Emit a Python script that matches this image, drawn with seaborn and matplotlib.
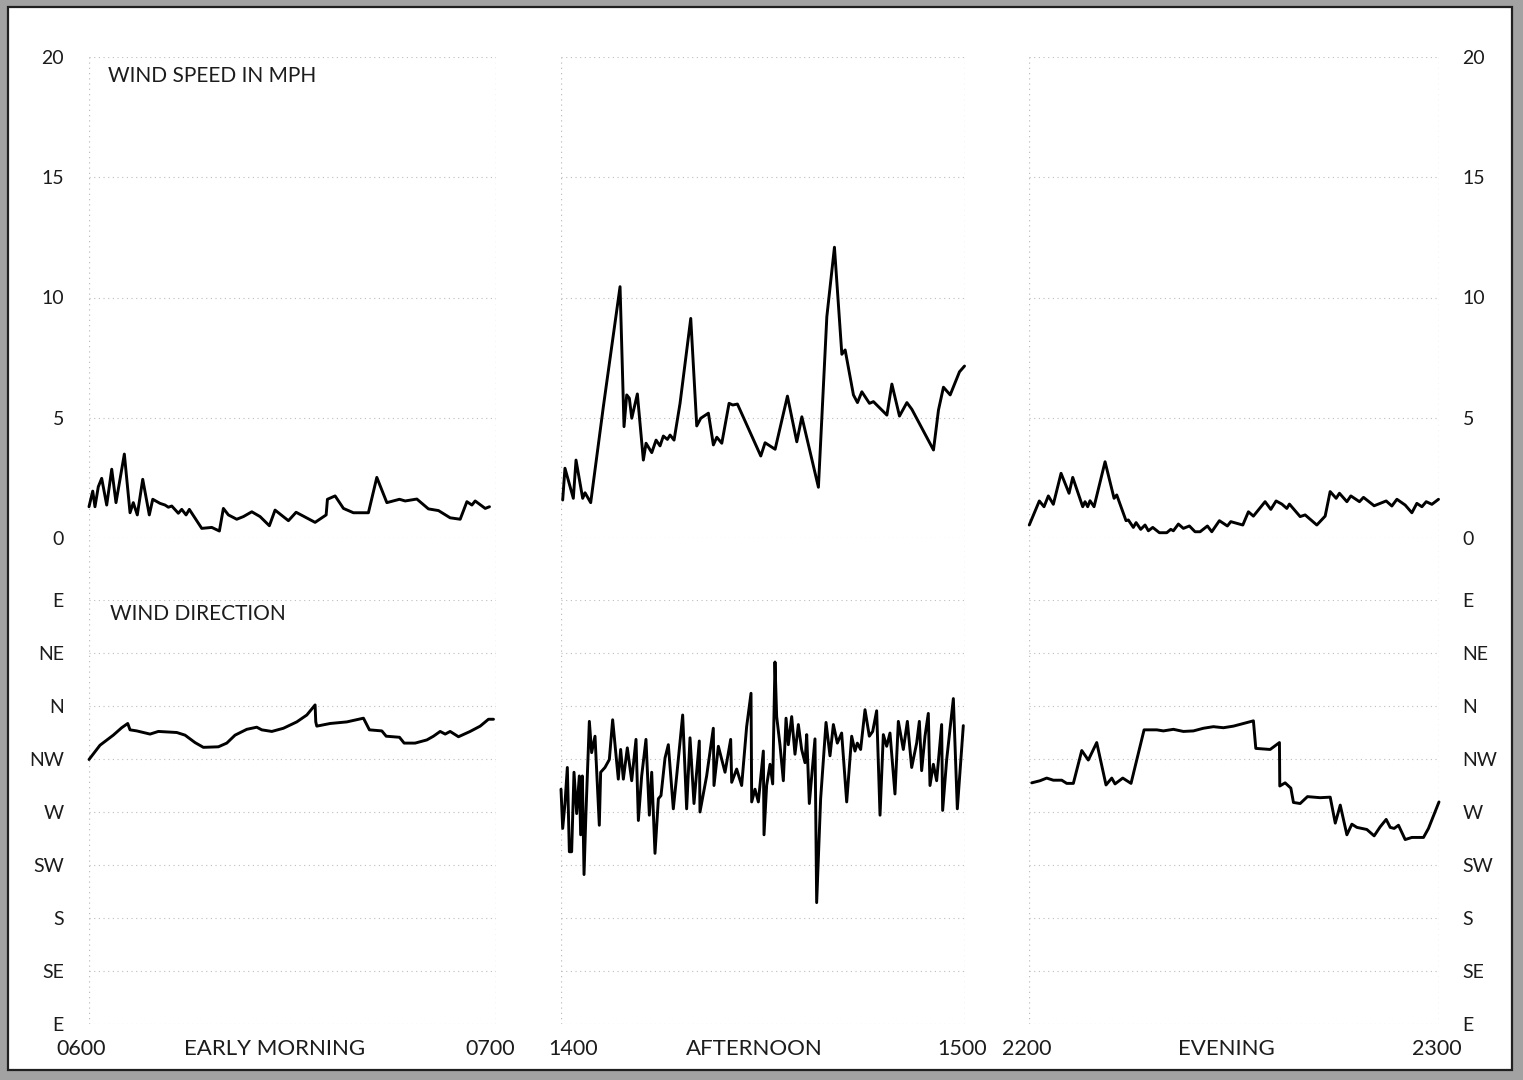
import numpy as np
import pandas as pd
import matplotlib
matplotlib.use("Agg")
import matplotlib.pyplot as plt
from matplotlib.patches import Rectangle
import seaborn as sns

# ---------------- data (minutes after the start of each hour) ----------------
panel_titles = ["EARLY MORNING", "AFTERNOON", "EVENING"]
hour_start_labels = ["0600", "1400", "2200"]
hour_end_labels = ["0700", "1500", "2300"]

speed_ticks = [0, 5, 10, 15, 20]
speed_tick_labels = ["0", "5", "10", "15", "20"]
dir_ticks = [0, 1, 2, 3, 4, 5, 6, 7, 8]
dir_tick_labels = ["E", "SE", "S", "SW", "W", "NW", "N", "NE", "E"]

morning_speed_t = [0.0, 0.55, 0.88, 1.37, 1.87, 2.61, 3.35, 3.98, 5.21, 6.05, 6.53, 7.12, 7.92, 8.89, 9.40,
                   10.47, 11.21, 11.70, 12.20, 13.17, 13.67, 14.31, 14.79, 16.62, 18.10, 19.22, 19.81, 20.55,
                   21.78, 22.76, 24.00, 25.22, 26.59, 27.43, 29.40, 30.53, 33.33, 34.96, 35.15, 36.28, 37.51,
                   38.98, 41.19, 42.43, 43.91, 45.77, 46.61, 48.33, 50.04, 51.52, 53.24, 54.72, 55.71, 56.45,
                   56.93, 58.41, 59.04]
morning_speed = [1.30, 1.95, 1.30, 2.13, 2.48, 1.37, 2.86, 1.47, 3.49, 1.05, 1.47, 0.96, 2.44, 0.96, 1.61,
                 1.44, 1.37, 1.28, 1.33, 1.03, 1.19, 0.96, 1.19, 0.40, 0.44, 0.29, 1.23, 0.96, 0.78, 0.89,
                 1.09, 0.89, 0.51, 1.16, 0.72, 1.07, 0.65, 0.96, 1.61, 1.75, 1.23, 1.05, 1.05, 2.52, 1.47,
                 1.61, 1.54, 1.62, 1.21, 1.14, 0.84, 0.78, 1.51, 1.37, 1.54, 1.23, 1.30]

afternoon_speed_t = [0.25, 0.59, 1.83, 2.23, 3.22, 3.57, 4.41, 6.29, 8.77, 9.36, 9.76, 10.15, 10.51, 11.34,
                     12.23, 12.63, 13.48, 14.12, 14.71, 15.20, 15.80, 16.20, 16.79, 17.68, 19.27, 20.16,
                     20.76, 21.89, 22.63, 23.14, 23.88, 24.96, 25.51, 26.20, 29.67, 30.31, 31.80, 33.63,
                     35.02, 35.77, 38.23, 39.48, 40.61, 41.71, 42.20, 43.43, 44.03, 44.68, 45.81, 46.40,
                     48.40, 49.14, 50.27, 51.37, 52.11, 55.32, 56.06, 56.80, 57.80, 59.18, 59.93]
afternoon_speed = [1.58, 2.90, 1.65, 3.24, 1.65, 1.88, 1.47, 5.46, 10.45, 4.63, 5.95, 5.81, 4.98, 5.99,
                   3.24, 3.94, 3.55, 4.07, 3.83, 4.24, 4.10, 4.28, 4.07, 5.60, 9.13, 4.66, 4.98, 5.19,
                   3.87, 4.19, 3.94, 5.60, 5.53, 5.57, 3.41, 3.96, 3.69, 5.90, 4.00, 5.04, 2.11, 9.20,
                   12.09, 7.64, 7.82, 5.95, 5.63, 6.08, 5.60, 5.67, 5.11, 6.40, 5.07, 5.63, 5.35, 3.66,
                   5.32, 6.27, 5.95, 6.91, 7.15]

evening_speed_t = [0.04, 1.51, 2.20, 2.83, 3.56, 4.69, 5.86, 6.40, 7.86, 8.20, 8.59, 8.93, 9.52, 11.13,
                   12.45, 12.84, 14.20, 14.54, 15.27, 15.67, 16.35, 16.98, 17.47, 18.11, 19.08, 20.16,
                   20.75, 21.13, 21.86, 22.59, 23.47, 24.30, 25.04, 26.11, 26.75, 27.86, 29.03, 29.53,
                   31.29, 32.11, 32.84, 34.55, 35.39, 36.16, 37.00, 37.73, 38.11, 39.68, 40.41, 42.12,
                   43.34, 44.07, 44.95, 45.43, 46.52, 47.10, 48.36, 48.95, 50.51, 52.27, 53.10, 53.84,
                   55.05, 56.03, 56.76, 57.50, 58.13, 58.96, 59.93]
evening_speed = [0.54, 1.54, 1.30, 1.75, 1.40, 2.69, 1.86, 2.52, 1.30, 1.51, 1.30, 1.55, 1.30, 3.17, 1.65,
                 1.79, 0.72, 0.75, 0.44, 0.64, 0.36, 0.54, 0.30, 0.44, 0.22, 0.22, 0.36, 0.30, 0.58, 0.40,
                 0.50, 0.26, 0.26, 0.50, 0.26, 0.72, 0.50, 0.68, 0.54, 1.09, 0.91, 1.51, 1.19, 1.54, 1.41,
                 1.23, 1.41, 0.89, 0.96, 0.54, 0.91, 1.93, 1.65, 1.86, 1.51, 1.75, 1.51, 1.69, 1.34, 1.54,
                 1.33, 1.61, 1.37, 1.05, 1.44, 1.30, 1.51, 1.40, 1.61]

# wind direction on a compass scale: 0=E, 1=SE, 2=S, 3=SW, 4=W, 5=NW, 6=N, 7=NE, 8=E
morning_dir_t = [0.0, 1.62, 3.58, 4.82, 5.71, 6.05, 7.04, 9.00, 10.22, 12.94, 14.16, 15.63, 16.86, 19.07,
                 20.31, 21.53, 23.26, 24.73, 25.47, 26.95, 28.66, 30.63, 32.11, 33.33, 33.43, 33.58, 35.55,
                 38.01, 40.46, 40.86, 41.34, 43.17, 43.81, 45.77, 46.46, 48.08, 49.81, 50.78, 51.77, 52.51,
                 53.24, 54.47, 56.19, 57.67, 58.89, 59.63]
morning_dir = [4.99, 5.26, 5.45, 5.59, 5.67, 5.55, 5.53, 5.47, 5.52, 5.50, 5.45, 5.31, 5.22, 5.23, 5.30,
               5.45, 5.56, 5.60, 5.55, 5.52, 5.58, 5.70, 5.83, 6.02, 5.70, 5.62, 5.67, 5.70, 5.77, 5.67,
               5.55, 5.53, 5.43, 5.41, 5.30, 5.30, 5.36, 5.43, 5.52, 5.47, 5.52, 5.42, 5.52, 5.62, 5.75,
               5.75]

afternoon_dir_t = [0.0, 0.25, 0.59, 0.94, 1.24, 1.58, 1.93, 2.33, 2.72, 2.92,
                   3.17, 3.42, 3.71, 4.21, 4.55, 5.05, 5.69, 5.89, 6.53, 7.18,
                   7.67, 8.51, 8.86, 9.26, 9.85, 10.50, 11.14, 11.49, 11.98, 12.62,
                   13.12, 13.47, 13.96, 14.46, 14.85, 15.45, 15.94, 16.68, 17.18, 18.07,
                   18.66, 19.16, 19.75, 20.54, 20.64, 21.63, 22.62, 22.72, 23.37, 24.36,
                   25.20, 25.35, 26.09, 26.83, 27.57, 28.22, 28.32, 28.81, 29.31, 30.05,
                   30.15, 30.54, 31.04, 31.44, 31.78, 32.03, 32.52, 33.02, 33.42, 33.76,
                   34.26, 34.75, 35.25, 35.74, 36.24, 36.49, 36.88, 37.72, 37.97, 38.56,
                   39.36, 39.95, 40.45, 41.04, 41.68, 42.43, 43.17, 43.66, 44.01, 44.50,
                   45.15, 45.79, 46.29, 46.88, 47.38, 47.87, 48.37, 48.86, 49.60, 50.10,
                   50.84, 51.44, 52.08, 52.82, 53.22, 53.56, 54.06, 54.55, 54.80, 55.30,
                   55.79, 56.53, 56.68, 57.28, 58.27, 58.86, 59.75]
afternoon_dir = [4.43, 3.69, 4.16, 4.84, 3.25, 3.25, 4.75, 3.97, 4.68, 3.57,
                 4.68, 2.82, 4.00, 5.71, 5.12, 5.43, 3.75, 4.75, 4.84, 4.99,
                 5.74, 4.62, 5.18, 4.62, 5.21, 4.59, 5.37, 3.84, 4.68, 5.37,
                 3.94, 4.75, 3.22, 4.25, 4.31, 5.02, 5.27, 4.06, 4.68, 5.83,
                 4.06, 5.40, 4.16, 5.34, 4.00, 4.68, 5.58, 4.50, 5.24, 4.75,
                 5.37, 4.56, 4.81, 4.50, 5.61, 6.24, 4.19, 4.43, 4.19, 5.15,
                 3.57, 4.50, 4.90, 4.53, 6.83, 5.80, 5.27, 4.59, 5.77, 5.27,
                 5.80, 5.09, 5.65, 5.18, 4.93, 5.46, 4.16, 5.38, 2.29, 4.25,
                 5.69, 5.06, 5.65, 5.30, 5.49, 4.19, 5.43, 5.15, 5.30, 5.18,
                 5.93, 5.43, 5.52, 5.91, 3.94, 5.46, 5.24, 5.49, 4.34, 5.71,
                 5.18, 5.71, 4.84, 5.30, 5.71, 4.78, 5.43, 5.86, 4.50, 4.90,
                 4.59, 5.65, 4.03, 4.99, 6.14, 4.06, 5.63]

evening_dir_t = [0.40, 1.61, 2.59, 3.56, 4.79, 5.52, 6.49, 7.72, 8.68, 9.91,
                 11.27, 12.11, 12.59, 13.72, 14.93, 16.84, 18.70, 19.66, 21.13, 22.59,
                 24.06, 25.52, 26.98, 28.45, 29.91, 31.38, 32.84, 33.19, 35.29, 36.65,
                 36.70, 37.48, 38.32, 38.70, 39.68, 40.75, 42.61, 44.08, 44.82, 45.55,
                 46.52, 47.25, 47.98, 49.44, 50.51, 51.39, 52.27, 52.86, 53.44, 54.07,
                 55.05, 56.03, 57.73, 58.46, 60.0]
evening_dir = [4.55, 4.59, 4.64, 4.60, 4.60, 4.54, 4.54, 5.16, 4.98, 5.31,
               4.51, 4.64, 4.53, 4.64, 4.54, 5.55, 5.55, 5.53, 5.56, 5.52,
               5.53, 5.58, 5.61, 5.59, 5.62, 5.67, 5.72, 5.20, 5.18, 5.31,
               4.49, 4.55, 4.45, 4.18, 4.16, 4.29, 4.27, 4.28, 3.79, 4.13,
               3.57, 3.77, 3.71, 3.67, 3.55, 3.72, 3.86, 3.71, 3.69, 3.75,
               3.48, 3.52, 3.52, 3.69, 4.19]

speed_series = [(morning_speed_t, morning_speed), (afternoon_speed_t, afternoon_speed),
                (evening_speed_t, evening_speed)]
dir_series = [(morning_dir_t, morning_dir), (afternoon_dir_t, afternoon_dir),
              (evening_dir_t, evening_dir)]

# ---------------- styling / layout ----------------
sns.set_theme(style="white")
plt.rcParams["font.family"] = ["Lato", "DejaVu Sans"]
TXT = "#1c1c1c"
GRID = "#bdbdbd"
DOT = (0, (1, 3.2))

W, H = 1523, 1080
fig = plt.figure(figsize=(W / 100, H / 100), dpi=100)
fig.patch.set_facecolor("#a2a2a2")
fig.add_artist(Rectangle((8 / W, 1 - 1070 / H), (1512 - 8) / W, (1070 - 7) / H,
                         transform=fig.transFigure, facecolor="white",
                         edgecolor="#202020", lw=1.6, zorder=-10))


def rect(x0, x1, ytop, ybot):
    return [x0 / W, 1 - ybot / H, (x1 - x0) / W, (ybot - ytop) / H]


columns = [(89, 496), (561, 965), (1029, 1439)]
SP_TOP, SP_BOT = 57, 538
DR_TOP, DR_BOT = 600, 1024

for i, (x0, x1) in enumerate(columns):
    # vertical dotted hour lines spanning both rows
    bg = fig.add_axes(rect(x0, x1, SP_TOP, DR_BOT))
    bg.set_xlim(0, 60)
    bg.set_ylim(0, 1)
    bg.axis("off")
    for xv in (0, 60):
        bg.axvline(xv, color=GRID, lw=0.9, ls=DOT)

    sp = fig.add_axes(rect(x0, x1, SP_TOP, SP_BOT))
    dr = fig.add_axes(rect(x0, x1, DR_TOP, DR_BOT))
    for ax, ticks, labels, lim in ((sp, speed_ticks, speed_tick_labels, 20),
                                   (dr, dir_ticks, dir_tick_labels, 8)):
        ax.set_facecolor("none")
        ax.set_xlim(0, 60)
        ax.set_ylim(0, lim)
        ax.set_yticks(ticks)
        ax.set_yticklabels(labels)
        ax.set_xticks([])
        for s in ax.spines.values():
            s.set_visible(False)
        ax.grid(axis="y", color=GRID, lw=0.8, ls=DOT)
        ax.grid(axis="x", visible=False)
        ax.tick_params(axis="y", length=0, labelsize=14, labelcolor=TXT, pad=18)
        if i == 0:
            ax.tick_params(axis="y", labelleft=True, labelright=False)
        elif i == 2:
            ax.yaxis.tick_right()
            ax.tick_params(axis="y", labelleft=False, labelright=True, pad=17)
        else:
            ax.tick_params(axis="y", labelleft=False, labelright=False)

    t, v = speed_series[i]
    sns.lineplot(x=t, y=v, ax=sp, color="black", lw=2.1, estimator=None, sort=False,
                 legend=False)
    t, d = dir_series[i]
    sns.lineplot(x=t, y=d, ax=dr, color="black", lw=2.1, estimator=None, sort=False,
                 legend=False)
    for ax in (sp, dr):
        ax.set_xlabel("")
        ax.set_ylabel("")
        for ln in ax.lines:
            ln.set_clip_on(False)
            ln.set_solid_joinstyle("round")

# ---------------- texts ----------------
fig.text(108 / W, 1 - 76 / H, "WIND SPEED IN MPH", fontsize=15, color=TXT,
         ha="left", va="center")
fig.text(110 / W, 1 - 614 / H, "WIND DIRECTION", fontsize=15, color=TXT,
         ha="left", va="center")

bottom_y = 1 - 1049 / H
start_x = [81, 573, 1027]
end_x = [490, 962, 1437]
title_x = [275, 754, 1226]
for i in range(3):
    fig.text(start_x[i] / W, bottom_y, hour_start_labels[i], fontsize=15.5, color=TXT,
             ha="center", va="center")
    fig.text(end_x[i] / W, bottom_y, hour_end_labels[i], fontsize=15.5, color=TXT,
             ha="center", va="center")
    fig.text(title_x[i] / W, bottom_y, panel_titles[i], fontsize=16, color=TXT,
             ha="center", va="center")

fig.savefig("out.png", dpi=100, facecolor=fig.get_facecolor())
